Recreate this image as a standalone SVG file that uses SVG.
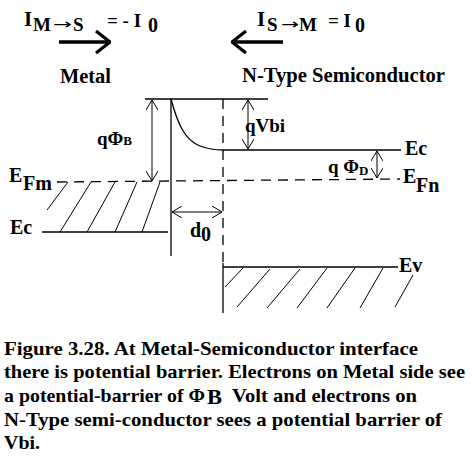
<svg xmlns="http://www.w3.org/2000/svg" width="472" height="465" viewBox="0 0 472 465">
<style>
text{font-family:"Liberation Serif","Times New Roman",serif;font-weight:bold;fill:#000}
.l{stroke:#000;stroke-width:1.3;fill:none}
.d{stroke:#000;stroke-width:1.3;fill:none;stroke-dasharray:10,7}
.h{stroke:#000;stroke-width:1;fill:none}
.dim{stroke:#000;stroke-width:1;fill:none;marker-start:url(#oa);marker-end:url(#oa)}
.big{stroke:#000;stroke-width:3.5;fill:none;marker-end:url(#ba)}
.cap{font-size:19px}
.arr{font-family:"DejaVu Sans",sans-serif;font-weight:normal;font-size:14px}
</style>
<defs>
<marker id="oa" viewBox="0 0 10 12" refX="10" refY="6" markerWidth="10" markerHeight="12" markerUnits="userSpaceOnUse" orient="auto-start-reverse">
<path d="M0,0 L10,6 L0,12" fill="none" stroke="#000" stroke-width="1"/>
</marker>
<marker id="ba" viewBox="0 0 16 24" refX="15" refY="12" markerWidth="16" markerHeight="24" markerUnits="userSpaceOnUse" orient="auto">
<path d="M1,1 L15,12 L1,23" fill="none" stroke="#000" stroke-width="3.2"/>
</marker>
</defs>

<g id="current-ms">
<text x="24" y="26" font-size="21">I</text>
<text x="33" y="31" font-size="19">M</text>
<text class="arr" x="53" y="29" textLength="19" lengthAdjust="spacingAndGlyphs">→</text>
<text x="73" y="31" font-size="19">S</text>
<text x="107" y="27" font-size="19">= - I</text>
<text x="148" y="32" font-size="20">0</text>
<line class="big" x1="59" y1="42" x2="110" y2="42"/>
</g>
<g id="current-sm">
<text x="257" y="26" font-size="21">I</text>
<text x="267" y="31" font-size="19">S</text>
<text class="arr" x="281" y="29" textLength="18" lengthAdjust="spacingAndGlyphs">→</text>
<text x="299" y="31" font-size="19">M</text>
<text x="328" y="27" font-size="19">= I</text>
<text x="355" y="32" font-size="20">0</text>
<line class="big" x1="283" y1="42" x2="232" y2="42"/>
</g>
<g id="label-metal"><text x="60" y="83" font-size="20" textLength="51" lengthAdjust="spacingAndGlyphs">Metal</text></g>
<g id="label-semi"><text x="242" y="82" font-size="20" textLength="203" lengthAdjust="spacingAndGlyphs">N-Type Semiconductor</text></g>

<g id="band-diagram">
<line class="l" x1="145" y1="99" x2="268" y2="99"/>
<line class="l" x1="171" y1="99" x2="171" y2="256"/>
<path class="l" d="M171,99 C178,125 185,140 200,146 C208,149 215,150 223,150"/>
<line class="d" x1="223" y1="99" x2="223" y2="262"/>
<line class="l" x1="223" y1="263" x2="223" y2="313"/>
<line class="l" x1="223" y1="150" x2="401" y2="150"/>
<line class="d" x1="57" y1="182" x2="400" y2="179"/>
<line class="l" x1="42" y1="232" x2="168" y2="232"/>
<line class="l" x1="223" y1="267" x2="398" y2="267"/>
<g id="hatch-metal">
<line class="h" x1="68" y1="182" x2="47" y2="210"/>
<line class="h" x1="91" y1="182" x2="60" y2="232"/>
<line class="h" x1="115" y1="182" x2="87" y2="232"/>
<line class="h" x1="137" y1="182" x2="115" y2="232"/>
<line class="h" x1="160" y1="182" x2="142" y2="232"/>
</g>
<g id="hatch-valence">
<line class="h" x1="243" y1="268" x2="225" y2="287"/>
<line class="h" x1="270" y1="269" x2="237" y2="307"/>
<line class="h" x1="300" y1="269" x2="267" y2="308"/>
<line class="h" x1="327" y1="268" x2="297" y2="308"/>
<line class="h" x1="355" y1="268" x2="327" y2="308"/>
<line class="h" x1="383" y1="268" x2="360" y2="308"/>
<line class="h" x1="413" y1="275" x2="395" y2="307"/>
</g>
</g>

<g id="connectors">
<line class="dim" x1="152" y1="100" x2="152" y2="181"/>
<line class="dim" x1="248" y1="100" x2="248" y2="149"/>
<line class="dim" x1="377" y1="151" x2="377" y2="178"/>
<line class="dim" x1="172" y1="212" x2="222" y2="212"/>
</g>

<g id="labels">
<text x="97" y="145" font-size="19">qΦ<tspan font-size="13">B</tspan></text>
<text x="9" y="182" font-size="20">E</text>
<text x="23" y="190" font-size="20">Fm</text>
<text x="10" y="234" font-size="20">Ec</text>
<text x="190" y="237" font-size="20">d</text>
<text x="201" y="241" font-size="20">0</text>
<text x="245" y="132" font-size="19">qVbi</text>
<text x="328" y="173" font-size="19">q Φ<tspan font-size="13" dy="2">D</tspan></text>
<text x="405" y="155" font-size="20">Ec</text>
<text x="403" y="183" font-size="20">E</text>
<text x="416" y="192" font-size="20">Fn</text>
<text x="399" y="272" font-size="20">Ev</text>
</g>

<g id="caption">
<text class="cap" x="4" y="355" textLength="414" lengthAdjust="spacingAndGlyphs">Figure 3.28. At Metal-Semiconductor interface</text>
<text class="cap" x="4" y="378" textLength="461" lengthAdjust="spacingAndGlyphs">there is potential barrier. Electrons on Metal side see</text>
<text class="cap" x="4" y="402" textLength="201" lengthAdjust="spacingAndGlyphs">a potential-barrier of Φ</text>
<text x="207" y="404" font-size="20" textLength="15" lengthAdjust="spacingAndGlyphs">B</text>
<text class="cap" x="232" y="402" textLength="185" lengthAdjust="spacingAndGlyphs">Volt and electrons on</text>
<text class="cap" x="4" y="426" textLength="438" lengthAdjust="spacingAndGlyphs">N-Type semi-conductor sees a potential barrier of</text>
<text class="cap" x="4" y="449" textLength="36" lengthAdjust="spacingAndGlyphs">Vbi.</text>
</g>
</svg>
